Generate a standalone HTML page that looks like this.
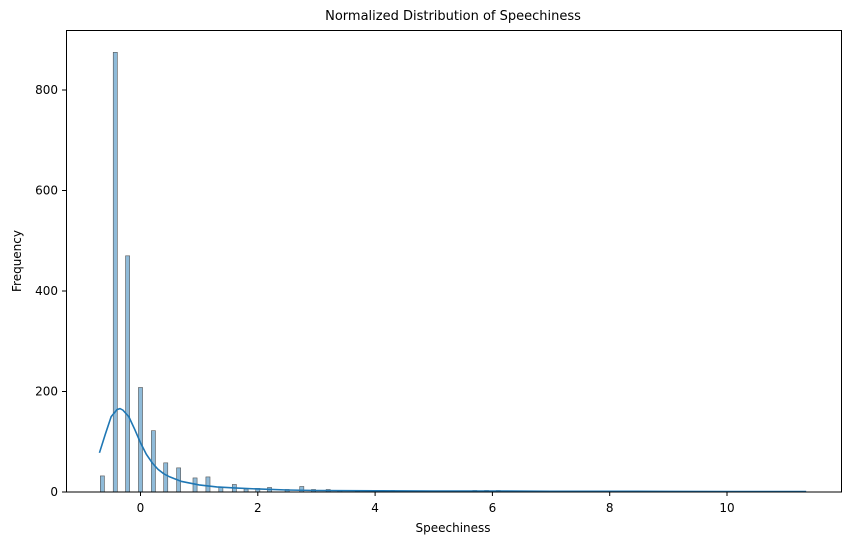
<!DOCTYPE html>
<html><head><meta charset="utf-8"><style>
body{margin:0;background:#fff;}
svg text{font-family:"DejaVu Sans","Liberation Sans",sans-serif;fill:#000;}
</style></head><body>
<svg id="chart" width="850" height="545">
<text x="453" y="20" font-size="13" text-anchor="middle">Normalized Distribution of Speechiness</text>
<g id="bars"></g>
<g id="kde"></g>
<rect x="66.5" y="30.5" width="775" height="461.5" fill="none" stroke="#000" stroke-width="1"/>
<g id="xt"></g>
<g id="yt"></g>
<text x="453" y="532" font-size="12" text-anchor="middle">Speechiness</text>
<text transform="translate(21,261) rotate(-90)" font-size="12" text-anchor="middle">Frequency</text>
</svg>
<script>
const binCenters=[-0.65,-0.43,-0.22,0.0,0.22,0.43,0.65,0.93,1.15,1.37,1.6,1.8,2.0,2.2,2.5,2.75,2.95,3.2,3.4,3.7,4.1,4.3,4.6,5.0,5.4,5.7,5.9,6.1,6.5,7.0,7.5,7.8,8.1,8.5,9.0,9.4,10.0,10.5,11.0,11.3];
const binCounts=[32,875,470,208,122,58,48,28,30,10,15,6,7,9,5,11,5,5,3,2,3,3,2,2,2,3,3,3,1,2,1,2,2,1,1,1,1,1,1,1];
const kdeX=[-0.7,-0.6,-0.5,-0.4,-0.35,-0.3,-0.2,-0.1,0,0.1,0.2,0.3,0.4,0.5,0.7,1.0,1.3,1.6,2.0,2.5,3,4,5,6,7,8,9,10,11.35];
const kdeY=[78,115,150,164,166,163,150,125,98,75,58,45,36,30,21,14,10,8,6,4,3,2.5,2,2,1.5,1.5,1.2,1,1];
const xTicks=[0,2,4,6,8,10];
const yTicks=[0,200,400,600,800];
const binWidth=0.07;
const xs=v=>140.5+v*58.65, ys=v=>492-v*0.5025;
const NS="http://www.w3.org/2000/svg";
const bars=document.getElementById('bars');
binCenters.forEach((c,i)=>{
 const r=document.createElementNS(NS,'rect');
 const x0=xs(c-binWidth/2), x1=xs(c+binWidth/2);
 r.setAttribute('x',x0);r.setAttribute('width',x1-x0);
 r.setAttribute('y',ys(binCounts[i]));r.setAttribute('height',492-ys(binCounts[i]));
 r.setAttribute('fill','rgba(31,119,180,0.5)');r.setAttribute('stroke','#555');r.setAttribute('stroke-width','0.6');
 
 
 bars.appendChild(r);
});
const p=document.createElementNS(NS,'path');
p.setAttribute('d',kdeX.map((x,i)=>(i?'L':'M')+xs(x)+','+ys(kdeY[i])).join(''));
p.setAttribute('fill','none');p.setAttribute('stroke','#1f77b4');p.setAttribute('stroke-width','1.6');


document.getElementById('kde').appendChild(p);
const xt=document.getElementById('xt');
xTicks.forEach(t=>{
 const l=document.createElementNS(NS,'line');
 l.setAttribute('x1',xs(t));l.setAttribute('x2',xs(t));l.setAttribute('y1',492);l.setAttribute('y2',496);l.setAttribute('stroke','#000');
 
 
 xt.appendChild(l);
 const s=document.createElementNS(NS,'text');
 s.setAttribute('x',xs(t));s.setAttribute('y',512);s.setAttribute('font-size','12');s.setAttribute('text-anchor','middle');
 s.textContent=t;
 
 
 xt.appendChild(s);
});
const yt=document.getElementById('yt');
yTicks.forEach(t=>{
 const l=document.createElementNS(NS,'line');
 l.setAttribute('x1',62);l.setAttribute('x2',66);l.setAttribute('y1',ys(t));l.setAttribute('y2',ys(t));l.setAttribute('stroke','#000');
 
 
 yt.appendChild(l);
 const s=document.createElementNS(NS,'text');
 s.setAttribute('x',58);s.setAttribute('y',ys(t)+4);s.setAttribute('font-size','12');s.setAttribute('text-anchor','end');
 s.textContent=t;
 
 
 yt.appendChild(s);
});
</script>
</body></html>
